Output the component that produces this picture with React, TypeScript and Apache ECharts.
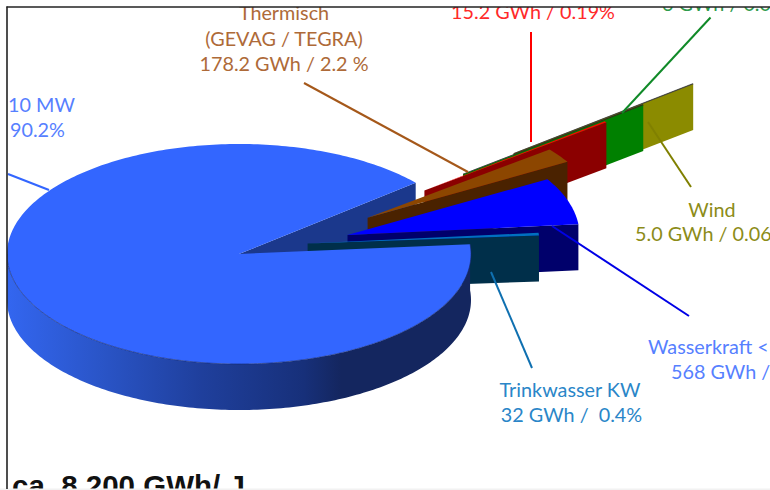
import React, { useEffect, useRef } from "react";
import * as echarts from "echarts";

// Energy per source, GWh
const sources = ["Wasserkraft > 10 MW", "Trinkwasser KW", "Wasserkraft < 10 MW", "Thermisch", "Biomasse", "Photovoltaik", "Wind"];
const energy = [7400, 32, 568, 178.2, 15.2, 6, 5];

// Colours per source
const topColors = ["#3366FF", "#0070C0", "#0000FF", "#8C4600", "#FF0000", "#1d3a1d", "#2a2a10"];
const wallColors = ["#1B388C", "#002F4A", "#00006B", "#4A2200", "#8B0000", "#008000", "#8B8B00"];
const drawOrder = [6, 5, 4, 3, 2, 1];

// Pie projection
const CX = 239, CY = 254, RX = 232, RY = 110, DEPTH = 46;
const MAIN_START = 40.4, SLICE_START = 4.2;
// Exploded apex of every small slice
const apexes: number[][] = [[CX, CY], [307.6, 243.5], [347.5, 235], [367.6, 217.7], [424.4, 190.5], [463, 174.2], [513.6, 153.6]];

type Lbl = [string, number, number, "left" | "center", string];
const labels: Lbl[] = [
  ["Thermisch", 284, 19.5, "center", "#AE6A38"],
  ["(GEVAG / TEGRA)", 284, 45, "center", "#AE6A38"],
  ["178.2 GWh / 2.2 %", 284, 70.5, "center", "#AE6A38"],
  ["10 MW", 8, 111, "left", "#5680FF"],
  ["90.2%", 10, 136.5, "left", "#5680FF"],
  ["15.2 GWh / 0.19%", 533, 18, "center", "#FF2A2A"],
  ["6 GWh / 0.07%", 662, 10, "left", "#2E9B4C"],
  ["Wind", 712, 216, "center", "#8C8C18"],
  ["5.0 GWh / 0.06", 635, 240.5, "left", "#8C8C18"],
  ["Wasserkraft <", 648, 353.5, "left", "#5680FF"],
  ["568 GWh /", 671, 378.5, "left", "#5680FF"],
  ["Trinkwasser KW", 570, 396.5, "center", "#2A86C8"],
  ["32 GWh /  0.4%", 571.5, 421.5, "center", "#2A86C8"],
];
const footer = "ca. 8.200 GWh/ J";

type Lead = [number, number, number, number, string];
const leaders: Lead[] = [
  [8, 174, 49, 190, "#3366FF"],
  [304, 83, 468, 172, "#A5581A"],
  [531, 32, 531, 142, "#FF0000"],
  [710.5, 17.5, 622, 113, "#108A28"],
  [691, 187, 648, 122, "#808000"],
  [552, 226, 689, 316, "#0000E6"],
  [491, 272, 532, 368, "#0F70B0"],
];

const rad = (d: number) => (d * Math.PI) / 180;
const total = energy.reduce((a, b) => a + b, 0);
const sweep = (v: number) => (v / total) * 360;

function arc(ax: number, ay: number, from: number, to: number): number[][] {
  const n = Math.max(1, Math.ceil(Math.abs(to - from)));
  const pts: number[][] = [];
  for (let i = 0; i <= n; i++) {
    const t = rad(from + ((to - from) * i) / n);
    pts.push([ax + RX * Math.cos(t), ay - RY * Math.sin(t)]);
  }
  return pts;
}
const sink = (p: number[]) => [p[0], p[1] + DEPTH];

function renderItem(params: any, api: any) {
  const idx = params.dataIndex;
  const v = api.value(0);
  const [ax, ay] = apexes[idx];
  const a0 = energy.slice(1, idx).reduce((s, x) => s + sweep(x), SLICE_START);
  const z = drawOrder.indexOf(idx) + 10;
  const poly = (points: number[][], style: any, z2: number) => ({
    type: "polygon", shape: { points }, style, z2, silent: true,
  });
  if (idx === 0) {
    const end = MAIN_START + sweep(v);
    const edge = arc(ax, ay, MAIN_START, MAIN_START)[0];
    const front = arc(ax, ay, 180, end);
    const gradient = {
      type: "linear", global: true, x: 7, y: 0, x2: 471, y2: 0,
      colorStops: [
        { offset: 0, color: "#3366F0" },
        { offset: 0.2, color: "#2A55C8" },
        { offset: 0.42, color: "#1F3F9C" },
        { offset: 0.64, color: "#17307A" },
        { offset: 0.72, color: "#14265F" },
        { offset: 1, color: "#14265F" },
      ],
    };
    return {
      type: "group",
      children: [
        poly([[ax, ay], edge, sink(edge), [ax, ay + DEPTH]], { fill: wallColors[0] }, 1),
        poly([...front, ...front.map(sink).reverse()], { fill: gradient }, 40),
        poly([[ax, ay], ...arc(ax, ay, MAIN_START, end)], { fill: topColors[0] }, 41),
        { type: "polyline", shape: { points: front }, style: { fill: "none", stroke: "#16296A", lineWidth: 0.6 }, z2: 42, silent: true },
      ],
    };
  }
  const a1 = a0 + sweep(v);
  const outer = arc(ax, ay, a0, a1);
  const rim = outer[0];
  return {
    type: "group",
    children: [
      poly([[ax, ay], rim, sink(rim), [ax, ay + DEPTH]], { fill: wallColors[idx] }, z),
      poly([[ax, ay], ...outer], { fill: topColors[idx], stroke: idx >= 5 ? "#222" : "none", lineWidth: 0.5 }, z),
    ],
  };
}

export default function App() {
  const ref = useRef<HTMLDivElement>(null);
  useEffect(() => {
    document.body.style.margin = "0";
    const chart = echarts.init(ref.current!, null, { renderer: "svg" });
    const texts = labels.map(([text, x, y, align, color]) => ({
      type: "text", x, y: y - 7.4, z: 50,
      style: { text, fill: color, align, verticalAlign: "middle", font: '19.8px Lato, "Open Sans", sans-serif' },
    }));
    const lines = leaders.map(([x1, y1, x2, y2, color]) => ({
      type: "line", z: 50, shape: { x1, y1, x2, y2 }, style: { stroke: color, lineWidth: 2 },
    }));
    chart.setOption({
      animation: false,
      backgroundColor: "#fff",
      series: [{
        type: "custom",
        coordinateSystem: "none",
        silent: true,
        data: energy.map((v, i) => ({ name: sources[i], value: [v] })),
        renderItem,
      }],
      graphic: {
        elements: [
          ...lines,
          ...texts,
          { type: "text", x: 12, y: 485, z: 50, style: { text: footer, fill: "#111", align: "left", verticalAlign: "middle", font: 'bold 29.5px "Liberation Sans", Arial, sans-serif' } },
          { type: "rect", z: 60, shape: { x: 0, y: 0, width: 770, height: 7 }, style: { fill: "#fff" } },
          { type: "rect", z: 60, shape: { x: 0, y: 0, width: 7, height: 490 }, style: { fill: "#fff" } },
          { type: "rect", z: 60, shape: { x: 0, y: 488.5, width: 770, height: 1.5 }, style: { fill: "#f2f2f2" } },
          { type: "line", z: 61, shape: { x1: 6.5, y1: 7, x2: 770, y2: 7 }, style: { stroke: "#222", lineWidth: 1.6 } },
          { type: "line", z: 61, shape: { x1: 7, y1: 6.5, x2: 7, y2: 489 }, style: { stroke: "#222", lineWidth: 1.6 } },
        ],
      },
    });
    return () => chart.dispose();
  }, []);
  return <div ref={ref} style={{ width: 770, height: 490, overflow: "hidden" }} />;
}
